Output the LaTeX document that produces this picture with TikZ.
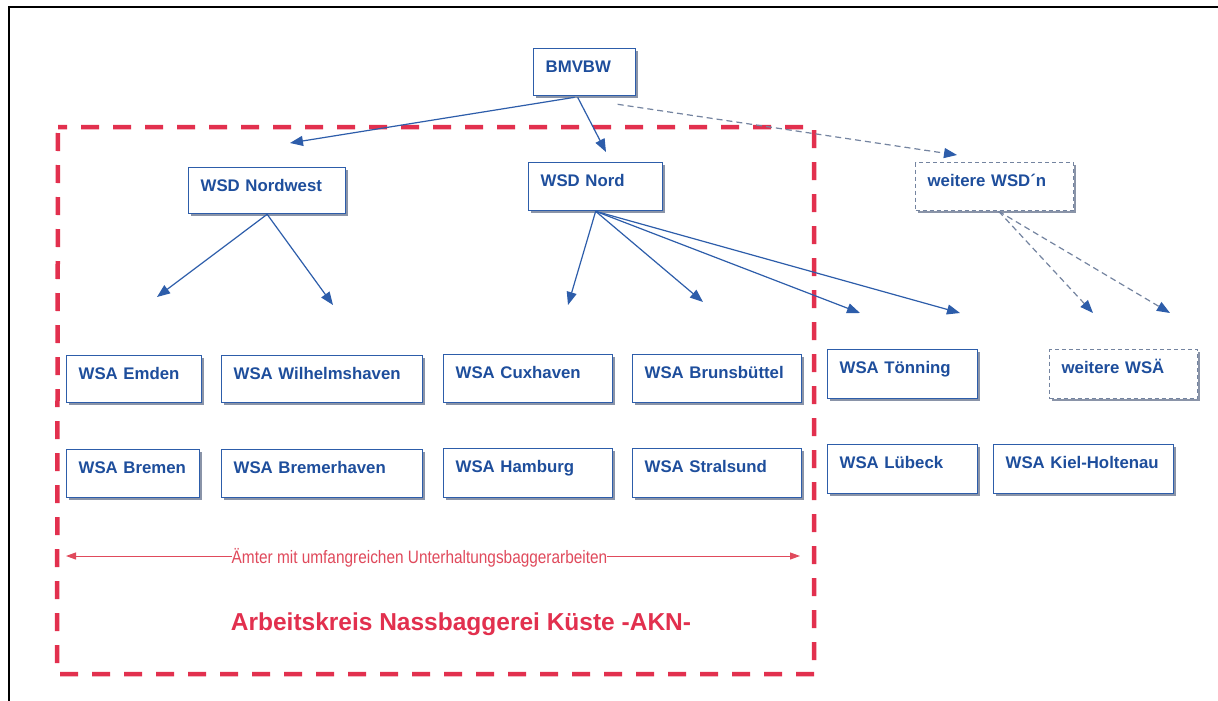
\documentclass[tikz,border=0pt]{standalone}
\usepackage{fontspec}
\setmainfont{Liberation Sans}
\newfontfamily\narrowfont[FakeStretch=0.855]{Liberation Sans}
\usetikzlibrary{arrows.meta,shadows,calc}
\definecolor{boxblue}{HTML}{2D5DAA}
\definecolor{txtblue}{HTML}{1E4E9C}
\definecolor{shadowgray}{HTML}{8A94A8}
\definecolor{dashgray}{HTML}{7484A0}
\definecolor{akred}{HTML}{E2304E}
\definecolor{akred2}{HTML}{E04A5C}
\tikzset{
  box/.style={draw=boxblue, line width=1.3pt, fill=white, anchor=north west,
    inner xsep=12pt, inner ysep=0pt, text=txtblue, align=left,
    font=\fontsize{16.8}{18}\selectfont\bfseries, text height=23.5pt,
    drop shadow={shadow xshift=2.5pt, shadow yshift=-2.5pt, fill=shadowgray, opacity=1}},
  dbox/.style={box, draw=dashgray, dash pattern=on 4pt off 3pt},
  conn/.style={draw=boxblue, line width=1.2pt, -{Triangle[length=13pt,width=10pt]}},
  dconn/.style={draw=dashgray, line width=1.2pt, dash pattern=on 6pt off 4pt,
    -{Triangle[length=13pt,width=10pt,color=boxblue]}},
  akn/.style={draw=akred, line width=4.5pt, dash pattern=on 18pt off 14pt, dash phase=9pt},
}
\begin{document}
\begin{tikzpicture}[x=1pt,y=-1pt]
\useasboundingbox (0,0) rectangle (1218,701);
\fill[white] (0,0) rectangle (1218,701);
\draw[line width=2.5pt] (9,701) -- (9,7) -- (1218,7);

% red working-group frame
\draw[akn] (58,127) -- (814,127) -- (814,674) -- (57,674) -- cycle;

% boxes
\node[box, text width=78pt, text depth=23.5pt] (bmvbw) at (533,48) {BMVBW};
\node[box, text width=133pt, text depth=22.5pt] (wsdnw) at (188,167) {WSD Nordwest};
\node[box, text width=110pt, text depth=24.5pt] (wsdn) at (528,162) {WSD Nord};
\node[dbox, text width=134pt, text depth=24.5pt] (wsdw) at (915,162) {weitere WSD\char"00B4 n};

\node[box, text width=111pt, text depth=23.5pt] (emden) at (66,355) {WSA Emden};
\node[box, text width=177pt, text depth=23.5pt] (wilh) at (221,355) {WSA Wilhelmshaven};
\node[box, text width=145pt, text depth=24.5pt] (cux) at (443,354) {WSA Cuxhaven};
\node[box, text width=145pt, text depth=24.5pt] (bruns) at (632,354) {WSA Brunsbüttel};
\node[box, text width=126pt, text depth=25.5pt] (toen) at (827,349) {WSA Tönning};
\node[dbox, text width=124pt, text depth=25.5pt] (wwsa) at (1049,349) {weitere WSÄ};

\node[box, text width=109pt, text depth=24.5pt] (bremen) at (66,449) {WSA Bremen};
\node[box, text width=177pt, text depth=24.5pt] (bremerh) at (221,449) {WSA Bremerhaven};
\node[box, text width=145pt, text depth=25.5pt] (hamb) at (443,448) {WSA Hamburg};
\node[box, text width=145pt, text depth=25.5pt] (stral) at (632,448) {WSA Stralsund};
\node[box, text width=126pt, text depth=25.5pt] (luebeck) at (827,444) {WSA Lübeck};
\node[box, text width=156pt, text depth=25.5pt] (kiel) at (993,444) {WSA Kiel-Holtenau};

% arrow tips (free ends)
\coordinate (t-nw) at (290,143);
\coordinate (t-n) at (606,152);
\coordinate (t-w) at (957,155);
\coordinate (t-emden) at (157,297);
\coordinate (t-wilh) at (333,305);
\coordinate (t-cux) at (568,305);
\coordinate (t-bruns) at (703,302);
\coordinate (t-toen) at (860,313);
\coordinate (t-luebeck) at (960,313);
\coordinate (t-wwsa1) at (1093,313);
\coordinate (t-wwsa2) at (1170,313);

% connectors
\draw[conn] ($(bmvbw.south)+(-10,1)$) -- (t-nw);
\draw[conn] ($(bmvbw.south)+(-7,1)$) -- (t-n);
\draw[dconn] ($(bmvbw.south)+(33,8)$) -- (t-w);
\draw[conn] (wsdnw.south) -- (t-emden);
\draw[conn] (wsdnw.south) -- (t-wilh);
\draw[conn] (wsdn.south) -- (t-cux);
\draw[conn] (wsdn.south) -- (t-bruns);
\draw[conn] (wsdn.south) -- (t-toen);
\draw[conn] (wsdn.south) -- (t-luebeck);
\draw[dconn] ($(wsdw.south)+(4,0)$) -- (t-wwsa1);
\draw[dconn] ($(wsdw.south)+(4,0)$) -- (t-wwsa2);

% range arrow
\coordinate (r-l) at (66,556);
\coordinate (r-r) at (800,556);
\draw[draw=akred2, line width=1pt, {Triangle[length=10pt,width=7pt]}-{Triangle[length=10pt,width=7pt]}] (r-l) -- (r-r);
\node[fill=white, anchor=base, inner xsep=0pt, inner ysep=1pt, text=akred2, font=\narrowfont\fontsize{18}{20}\selectfont] (range) at (419.5,563) {Ämter mit umfangreichen Unterhaltungsbaggerarbeiten};

\node[text=akred, font=\fontsize{24.5}{28}\selectfont\bfseries] (akn) at (461,624) {Arbeitskreis Nassbaggerei Küste -AKN-};
\end{tikzpicture}
\end{document}
